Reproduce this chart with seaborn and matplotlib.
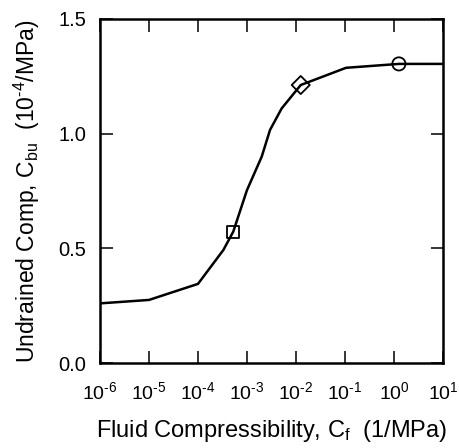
import matplotlib
matplotlib.use("Agg")
import matplotlib.pyplot as plt
import numpy as np
import pandas as pd
import seaborn as sns

# curve: fluid compressibility (1/MPa) vs undrained compressibility (1e-4/MPa)
cf = [1e-6, 1e-5, 1e-4, 3.3e-4, 5.25e-4, 1.0e-3, 2.0e-3, 2.95e-3, 5.1e-3, 1.25e-2, 1.05e-1, 1.26, 10.0]
cbu = [0.26, 0.275, 0.345, 0.493, 0.573, 0.754, 0.90, 1.016, 1.11, 1.212, 1.287, 1.304, 1.304]

# marked points
mark_cf = [5.25e-4, 1.25e-2, 1.26]
mark_cbu = [0.573, 1.212, 1.304]
mark_kind = ["s", "D", "o"]

xticks = [1e-6, 1e-5, 1e-4, 1e-3, 1e-2, 1e-1, 1, 10]
xexps = ["\u20106", "\u20105", "\u20104", "\u20103", "\u20102", "\u20101", "0", "1"]
xlabels = [r"$\mathregular{10^{%s}}$" % e for e in xexps]
yticks = [0.0, 0.5, 1.0, 1.5]

sns.set_style("ticks")
plt.rcParams["font.family"] = ["Liberation Sans", "DejaVu Sans"]
plt.rcParams["axes.unicode_minus"] = False
plt.rcParams["mathtext.fontset"] = "custom"
plt.rcParams["mathtext.rm"] = "Liberation Sans"
plt.rcParams["text.color"] = "black"
plt.rcParams["axes.labelcolor"] = "black"

df = pd.DataFrame({"cf": cf, "cbu": cbu})

fig = plt.figure(figsize=(4.6, 4.48), dpi=100)
ax = fig.add_axes([0.2174, 0.1897, 0.7456, 0.768])

sns.lineplot(data=df, x="cf", y="cbu", ax=ax, color="black", linewidth=1.8)
for x, y, m in zip(mark_cf, mark_cbu, mark_kind):
    sz = {"s": 75, "D": 85, "o": 90}[m]
    sns.scatterplot(x=[x], y=[y], ax=ax, marker=m, s=sz, facecolor="none",
                    edgecolor="black", linewidth=1.3, zorder=3)

ax.set_xscale("log")
ax.set_xlim(1e-6, 10)
ax.set_ylim(0, 1.5)
ax.set_xticks(xticks)
ax.set_xticklabels(xlabels)
ax.minorticks_off()
ax.set_yticks(yticks)
ax.set_yticklabels([f"{v:.1f}" for v in yticks])

ax.tick_params(direction="in", length=9, width=1.1, top=True, right=True, colors="black")
ax.tick_params(axis="x", labelsize=14, pad=13)
ax.tick_params(axis="y", labelsize=14.5, pad=10)
for s in ax.spines.values():
    s.set_linewidth(1.8)
    s.set_color("black")

ax.set_xlabel(r"Fluid Compressibility, C$\mathregular{_f}$  (1/MPa)", fontsize=17, labelpad=11)
ax.set_ylabel("Undrained Comp, C$\\mathregular{_{bu}}$  ($\\mathregular{10^{\u20104}}$/MPa)",
              fontsize=16.5, labelpad=12)

fig.savefig("out.png", dpi=100)
